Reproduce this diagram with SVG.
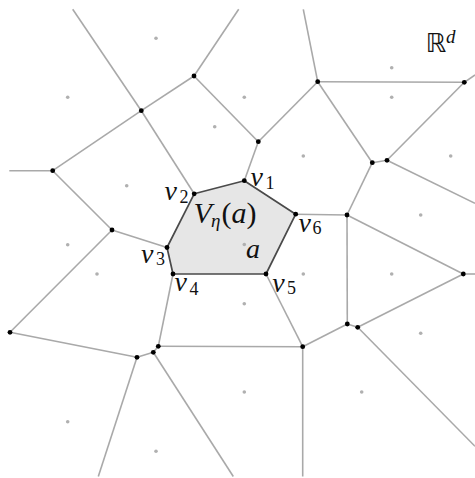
<svg xmlns="http://www.w3.org/2000/svg" width="475" height="478" viewBox="0 0 475 478">
<style>
.e{stroke:#a9a9a9;stroke-width:1.6;fill:none;stroke-linecap:butt}
.s{fill:#b0b0b0}
.v{fill:#000}
.cell{fill:#e6e6e6;stroke:#4a4a4a;stroke-width:1.7;stroke-linejoin:round}
.m{font-family:"Liberation Serif","DejaVu Serif",serif;font-style:italic;fill:#111}
.r{font-family:"Liberation Serif","DejaVu Serif",serif;fill:#111}
</style>
<rect width="475" height="478" fill="#fff"/>
<g id="cell-a">
<polygon class="cell" points="244.3,180.7 194.2,193.8 167,247.5 173,274 266,274 295.7,214.2"/>
</g>
<g id="connectors">
<line class="e" x1="72.7" y1="9.3" x2="141.3" y2="110.7"/>
<line class="e" x1="141.3" y1="110.7" x2="194.2" y2="193.8"/>
<line class="e" x1="194" y1="76" x2="141.3" y2="110.7"/>
<line class="e" x1="194" y1="76" x2="238.7" y2="9.3"/>
<line class="e" x1="194" y1="76" x2="258.3" y2="141.7"/>
<line class="e" x1="141.3" y1="110.7" x2="52.7" y2="170.7"/>
<line class="e" x1="52.7" y1="170.7" x2="9.3" y2="170.7"/>
<line class="e" x1="52.7" y1="170.7" x2="112" y2="230"/>
<line class="e" x1="112" y1="230" x2="167" y2="247.5"/>
<line class="e" x1="112" y1="230" x2="10" y2="332.3"/>
<line class="e" x1="258.3" y1="141.7" x2="244.3" y2="180.7"/>
<line class="e" x1="258.3" y1="141.7" x2="317.7" y2="81.7"/>
<line class="e" x1="317.7" y1="81.7" x2="303.3" y2="9.3"/>
<line class="e" x1="317.7" y1="81.7" x2="464.3" y2="82.3"/>
<line class="e" x1="464.3" y1="82.3" x2="475" y2="75"/>
<line class="e" x1="317.7" y1="81.7" x2="372.3" y2="162.7"/>
<line class="e" x1="372.3" y1="162.7" x2="387" y2="160.3"/>
<line class="e" x1="387" y1="160.3" x2="464.3" y2="82.3"/>
<line class="e" x1="387" y1="160.3" x2="475" y2="203.3"/>
<line class="e" x1="372.3" y1="162.7" x2="347" y2="215"/>
<line class="e" x1="295.7" y1="214.2" x2="347" y2="215"/>
<line class="e" x1="347" y1="215" x2="463.3" y2="274"/>
<line class="e" x1="463.3" y1="274" x2="475" y2="274"/>
<line class="e" x1="347" y1="215" x2="347.3" y2="324"/>
<line class="e" x1="173" y1="274" x2="158.3" y2="346.3"/>
<line class="e" x1="158.3" y1="346.3" x2="302.7" y2="346.7"/>
<line class="e" x1="158.3" y1="346.3" x2="153.3" y2="352.3"/>
<line class="e" x1="153.3" y1="352.3" x2="137" y2="357.3"/>
<line class="e" x1="137" y1="357.3" x2="10" y2="332.3"/>
<line class="e" x1="137" y1="357.3" x2="98.3" y2="476.5"/>
<line class="e" x1="153.3" y1="352.3" x2="233.3" y2="476.5"/>
<line class="e" x1="266" y1="274" x2="302.7" y2="346.7"/>
<line class="e" x1="302.7" y1="346.7" x2="347.3" y2="324"/>
<line class="e" x1="347.3" y1="324" x2="357.7" y2="327.3"/>
<line class="e" x1="357.7" y1="327.3" x2="463.3" y2="274"/>
<line class="e" x1="357.7" y1="327.3" x2="475" y2="446.3"/>
<line class="e" x1="302.7" y1="346.7" x2="302.7" y2="476.5"/>
</g>
<g id="sites">
<circle class="s" cx="156" cy="38.3" r="1.8"/>
<circle class="s" cx="67.7" cy="97.3" r="1.8"/>
<circle class="s" cx="244.3" cy="97.3" r="1.8"/>
<circle class="s" cx="391.7" cy="67.7" r="1.8"/>
<circle class="s" cx="391.7" cy="97.3" r="1.8"/>
<circle class="s" cx="214.7" cy="126.7" r="1.8"/>
<circle class="s" cx="126.7" cy="185.7" r="1.8"/>
<circle class="s" cx="303.3" cy="156" r="1.8"/>
<circle class="s" cx="450.7" cy="156" r="1.8"/>
<circle class="s" cx="420.7" cy="215" r="1.8"/>
<circle class="s" cx="67.7" cy="244.7" r="1.8"/>
<circle class="s" cx="97" cy="274" r="1.8"/>
<circle class="s" cx="244.3" cy="244.5" r="1.8"/>
<circle class="s" cx="303.3" cy="274" r="1.8"/>
<circle class="s" cx="391.7" cy="274" r="1.8"/>
<circle class="s" cx="244.3" cy="303.7" r="1.8"/>
<circle class="s" cx="420.7" cy="333.3" r="1.8"/>
<circle class="s" cx="244.3" cy="392" r="1.8"/>
<circle class="s" cx="361.7" cy="392" r="1.8"/>
<circle class="s" cx="67.7" cy="421.7" r="1.8"/>
<circle class="s" cx="156" cy="451.3" r="1.8"/>
</g>
<g id="vertices">
<circle class="v" cx="194" cy="76" r="2.4"/>
<circle class="v" cx="141.3" cy="110.7" r="2.4"/>
<circle class="v" cx="52.7" cy="170.7" r="2.4"/>
<circle class="v" cx="112" cy="230" r="2.4"/>
<circle class="v" cx="258.3" cy="141.7" r="2.4"/>
<circle class="v" cx="317.7" cy="81.7" r="2.4"/>
<circle class="v" cx="464.3" cy="82.3" r="2.4"/>
<circle class="v" cx="372.3" cy="162.7" r="2.4"/>
<circle class="v" cx="387" cy="160.3" r="2.4"/>
<circle class="v" cx="347" cy="215" r="2.4"/>
<circle class="v" cx="463.3" cy="274" r="2.4"/>
<circle class="v" cx="158.3" cy="346.3" r="2.4"/>
<circle class="v" cx="153.3" cy="352.3" r="2.4"/>
<circle class="v" cx="137" cy="357.3" r="2.4"/>
<circle class="v" cx="10" cy="332.3" r="2.4"/>
<circle class="v" cx="302.7" cy="346.7" r="2.4"/>
<circle class="v" cx="347.3" cy="324" r="2.4"/>
<circle class="v" cx="357.7" cy="327.3" r="2.4"/>
</g>
<g id="v1"><circle class="v" cx="244.3" cy="180.7" r="2.4"/><text class="m" x="250.5" y="186" font-size="28">v</text><text class="r" x="265.5" y="188.5" font-size="18">1</text></g>
<g id="v2"><circle class="v" cx="194.2" cy="193.8" r="2.4"/><text class="m" x="164.5" y="200" font-size="28">v</text><text class="r" x="179.5" y="202.5" font-size="18">2</text></g>
<g id="v3"><circle class="v" cx="167" cy="247.5" r="2.4"/><text class="m" x="141" y="262.7" font-size="28">v</text><text class="r" x="156" y="265.2" font-size="18">3</text></g>
<g id="v4"><circle class="v" cx="173" cy="274" r="2.4"/><text class="m" x="174.5" y="291" font-size="28">v</text><text class="r" x="189.5" y="294.5" font-size="18">4</text></g>
<g id="v5"><circle class="v" cx="266" cy="274" r="2.4"/><text class="m" x="272.3" y="291.7" font-size="28">v</text><text class="r" x="287" y="294.2" font-size="18">5</text></g>
<g id="v6"><circle class="v" cx="295.7" cy="214.2" r="2.4"/><text class="m" x="298.5" y="231.7" font-size="28">v</text><text class="r" x="312.5" y="234.2" font-size="18">6</text></g>
<g id="label-a"><text class="m" x="246" y="258.3" font-size="28">a</text></g>
<g id="label-V"><text class="m" x="193.5" y="223.3" font-size="30">V</text><text class="m" x="211" y="226.5" font-size="19">η</text><text class="r" x="221.5" y="223.3" font-size="30">(<tspan class="m" font-style="italic">a</tspan>)</text></g>
<g id="label-Rd"><text x="425.5" y="52.3" font-size="26" font-family="DejaVu Sans,sans-serif" fill="#111">ℝ<tspan class="m" font-size="19" dy="-9">d</tspan></text></g>
</svg>
